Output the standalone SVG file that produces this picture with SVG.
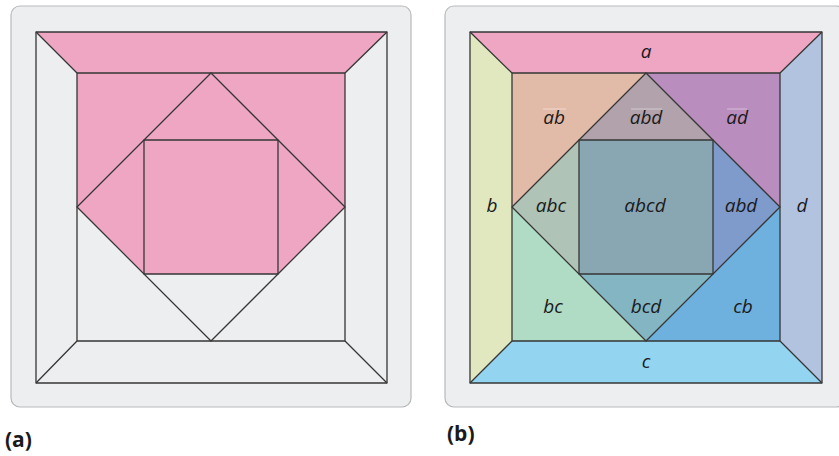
<svg xmlns="http://www.w3.org/2000/svg" width="839" height="456" viewBox="0 0 839 456">
<style>
.panel{fill:#edeef0;stroke:#b8b9bb;stroke-width:1.2}
.ln{stroke:#363636;stroke-width:1.3;stroke-linejoin:round}
.lbl{font-family:"Open Sans","Noto Sans",sans-serif;font-style:italic;font-size:19px;fill:#1a1a1a;text-anchor:middle}
.cap{font-family:"Open Sans","Noto Sans",sans-serif;font-weight:bold;font-size:21px;fill:#1a1a1a}
.ov{stroke:#ffffff;stroke-opacity:0.45;stroke-width:1}
</style>
<rect class="panel" x="11" y="6" width="400" height="401" rx="9"/>
<rect class="panel" x="445" y="6" width="400" height="401" rx="9"/>

<g id="panel-a">
  <g id="a-region-a">
    <path d="M36 32 H387 L345 73 V207 L278 274 H144 L77 207 V73 Z" fill="#eea6c3"/>
  </g>
  <g id="a-lines" class="ln" fill="none">
    <rect x="36" y="32" width="351" height="351"/>
    <rect x="77" y="73" width="268" height="268"/>
    <rect x="144" y="140" width="134" height="134"/>
    <path d="M211 73 L345 207 L211 341 L77 207 Z"/>
    <path d="M36 32 L77 73 M387 32 L345 73 M36 383 L77 341 M387 383 L345 341"/>
  </g>
</g>

<g id="panel-b">
  <g id="r-a"><path d="M470 32 H822 L780 73 H512 Z" fill="#eea6c3"/><text class="lbl" x="646" y="58">a</text></g>
  <g id="r-b"><path d="M470 32 L512 73 V341 L470 383 Z" fill="#e1e8c0"/><text class="lbl" x="492" y="212">b</text></g>
  <g id="r-d"><path d="M822 32 L780 73 V341 L822 383 Z" fill="#b2c3e0"/><text class="lbl" x="802" y="212">d</text></g>
  <g id="r-c"><path d="M512 341 H780 L822 383 H470 Z" fill="#93d5f0"/><text class="lbl" x="646" y="368">c</text></g>
  <g id="r-ab"><path d="M512 73 H646 L512 207 Z" fill="#e2baa8"/><text class="lbl" x="554" y="124">ab</text><line class="ov" x1="543" y1="109" x2="566" y2="109"/></g>
  <g id="r-ad"><path d="M646 73 H780 V207 Z" fill="#b98dbd"/><text class="lbl" x="737" y="124">ad</text><line class="ov" x1="727" y1="109" x2="747" y2="109"/></g>
  <g id="r-abd-top"><path d="M646 73 L713 140 H579 Z" fill="#b1a2ac"/><text class="lbl" x="646" y="124">abd</text><line class="ov" x1="631" y1="109" x2="662" y2="109"/></g>
  <g id="r-abc"><path d="M579 140 V274 L512 207 Z" fill="#afc3b6"/><text class="lbl" x="551" y="212">abc</text></g>
  <g id="r-abcd"><rect x="579" y="140" width="134" height="134" fill="#89a7b3"/><text class="lbl" x="645" y="212">abcd</text></g>
  <g id="r-abd-right"><path d="M713 140 L780 207 L713 274 Z" fill="#7e9bcc"/><text class="lbl" x="741" y="212">abd</text></g>
  <g id="r-bc"><path d="M512 207 L646 341 H512 Z" fill="#b0dbc4"/><text class="lbl" x="553" y="313">bc</text></g>
  <g id="r-bcd"><path d="M579 274 H713 L646 341 Z" fill="#84b5c2"/><text class="lbl" x="646" y="313">bcd</text></g>
  <g id="r-cb"><path d="M780 207 V341 H646 Z" fill="#6eb1df"/><text class="lbl" x="743" y="313">cb</text></g>
  <g id="b-lines" class="ln" fill="none">
    <rect x="470" y="32" width="352" height="351"/>
    <rect x="512" y="73" width="268" height="268"/>
    <rect x="579" y="140" width="134" height="134"/>
    <path d="M646 73 L780 207 L646 341 L512 207 Z"/>
    <path d="M470 32 L512 73 M822 32 L780 73 M470 383 L512 341 M822 383 L780 341"/>
  </g>
</g>

<text class="cap" x="5" y="447">(a)</text>
<text class="cap" x="447" y="441">(b)</text>
</svg>
